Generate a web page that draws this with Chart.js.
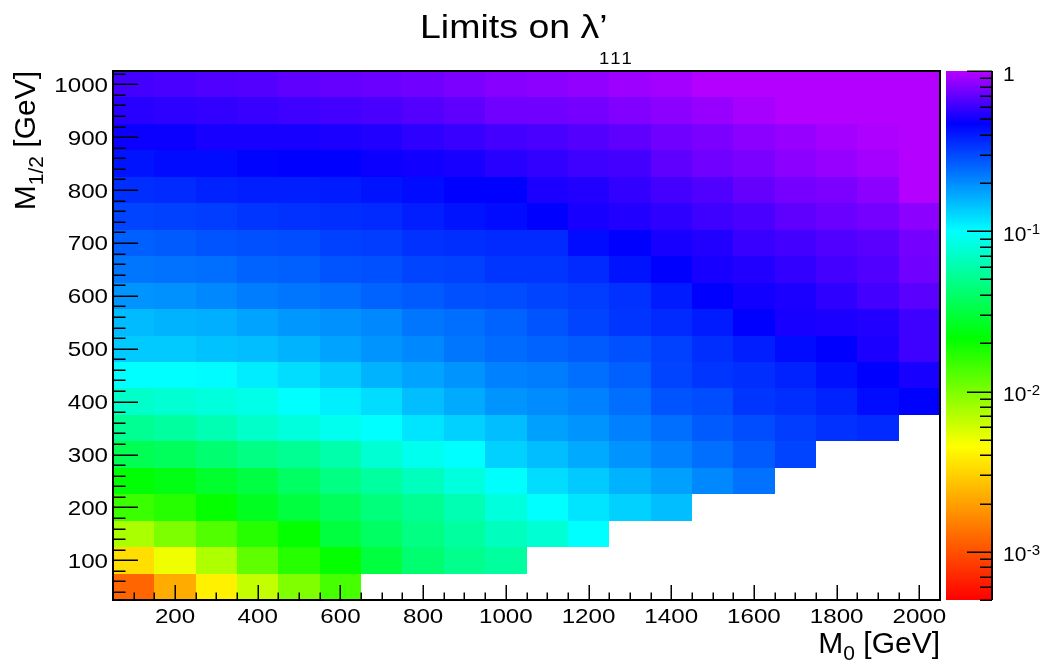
<!DOCTYPE html>
<html>
<head>
<meta charset="utf-8">
<title>Limits on λ'111</title>
<script src="https://cdn.jsdelivr.net/npm/chart.js@4.4.1/dist/chart.umd.min.js"></script>
<style>
  html, body { margin: 0; padding: 0; background: #fff; }
  #wrap { width: 1043px; height: 666px; }
</style>
</head>
<body>
<div id="wrap"><canvas id="limits" width="1043" height="666"></canvas></div>
<script>
// bin centres in GeV
const m0Bins  = [100, 200, 300, 400, 500, 600, 700, 800, 900, 1000, 1100, 1200, 1300, 1400, 1500, 1600, 1700, 1800, 1900, 2000];
const m12Bins = [50, 100, 150, 200, 250, 300, 350, 400, 450, 500, 550, 600, 650, 700, 750, 800, 850, 900, 950, 1000];

// upper limit on lambda'_111, one row per M_1/2 bin, one entry per M_0 bin (null = no limit)
const lim50   = [0.0012, 0.0022, 0.0040, 0.0065, 0.0098, 0.014, null, null, null, null, null, null, null, null, null, null, null, null, null, null];
const lim100  = [0.0034, 0.0050, 0.0074, 0.012, 0.017, 0.021, 0.031, 0.042, 0.050, 0.056, null, null, null, null, null, null, null, null, null, null];
const lim150  = [0.0076, 0.010, 0.013, 0.017, 0.021, 0.031, 0.039, 0.047, 0.056, 0.068, 0.076, 0.100, null, null, null, null, null, null, null, null];
const lim200  = [0.015, 0.017, 0.021, 0.026, 0.031, 0.037, 0.045, 0.052, 0.063, 0.081, 0.100, 0.117, 0.132, 0.148, null, null, null, null, null, null];
const lim250  = [0.022, 0.024, 0.028, 0.032, 0.039, 0.047, 0.056, 0.068, 0.081, 0.098, 0.123, 0.138, 0.158, 0.178, 0.204, 0.234, null, null, null, null];
const lim300  = [0.035, 0.037, 0.042, 0.047, 0.052, 0.060, 0.076, 0.091, 0.100, 0.132, 0.148, 0.166, 0.191, 0.214, 0.240, 0.269, 0.309, null, null, null];
const lim350  = [0.052, 0.056, 0.063, 0.072, 0.081, 0.091, 0.100, 0.117, 0.132, 0.148, 0.178, 0.191, 0.214, 0.240, 0.269, 0.295, 0.324, 0.347, 0.363, null];
const lim400  = [0.072, 0.076, 0.081, 0.087, 0.100, 0.110, 0.123, 0.148, 0.166, 0.191, 0.200, 0.214, 0.240, 0.282, 0.295, 0.339, 0.355, 0.380, 0.437, 0.468];
const lim450  = [0.100, 0.100, 0.102, 0.112, 0.123, 0.138, 0.158, 0.174, 0.191, 0.214, 0.219, 0.240, 0.263, 0.309, 0.339, 0.355, 0.380, 0.427, 0.468, 0.513];
const lim500  = [0.138, 0.138, 0.145, 0.148, 0.158, 0.174, 0.191, 0.204, 0.229, 0.245, 0.257, 0.269, 0.288, 0.316, 0.355, 0.389, 0.437, 0.468, 0.525, 0.603];
const lim550  = [0.151, 0.158, 0.162, 0.174, 0.186, 0.195, 0.204, 0.229, 0.240, 0.257, 0.282, 0.309, 0.339, 0.363, 0.398, 0.468, 0.513, 0.525, 0.537, 0.603];
const lim600  = [0.191, 0.195, 0.204, 0.219, 0.229, 0.240, 0.257, 0.269, 0.288, 0.295, 0.309, 0.324, 0.347, 0.398, 0.468, 0.501, 0.525, 0.562, 0.617, 0.676];
const lim650  = [0.229, 0.234, 0.240, 0.257, 0.263, 0.282, 0.288, 0.309, 0.316, 0.339, 0.339, 0.363, 0.417, 0.468, 0.513, 0.537, 0.575, 0.617, 0.646, 0.741];
const lim700  = [0.263, 0.269, 0.282, 0.288, 0.295, 0.316, 0.324, 0.347, 0.355, 0.363, 0.363, 0.437, 0.468, 0.513, 0.537, 0.589, 0.617, 0.646, 0.676, 0.759];
const lim750  = [0.309, 0.316, 0.324, 0.339, 0.347, 0.355, 0.363, 0.389, 0.417, 0.437, 0.468, 0.513, 0.537, 0.562, 0.603, 0.631, 0.692, 0.724, 0.759, 0.832];
const lim800  = [0.355, 0.363, 0.380, 0.389, 0.389, 0.398, 0.417, 0.437, 0.468, 0.468, 0.525, 0.537, 0.575, 0.617, 0.646, 0.708, 0.759, 0.776, 0.832, 0.977];
const lim850  = [0.417, 0.437, 0.437, 0.457, 0.468, 0.468, 0.490, 0.501, 0.513, 0.550, 0.575, 0.603, 0.617, 0.692, 0.741, 0.776, 0.832, 0.871, 0.912, 0.977];
const lim900  = [0.490, 0.490, 0.513, 0.513, 0.513, 0.525, 0.537, 0.562, 0.589, 0.617, 0.631, 0.661, 0.692, 0.741, 0.776, 0.832, 0.871, 0.912, 0.955, 0.977];
const lim950  = [0.550, 0.562, 0.575, 0.589, 0.603, 0.617, 0.631, 0.661, 0.692, 0.741, 0.741, 0.759, 0.794, 0.832, 0.871, 0.933, 0.977, 0.977, 0.977, 0.977];
const lim1000 = [0.617, 0.631, 0.646, 0.661, 0.692, 0.708, 0.724, 0.741, 0.776, 0.813, 0.832, 0.851, 0.891, 0.912, 0.977, 0.977, 0.977, 0.977, 0.977, 0.977];

const limitRows = [lim50, lim100, lim150, lim200, lim250, lim300, lim350, lim400, lim450, lim500,
                   lim550, lim600, lim650, lim700, lim750, lim800, lim850, lim900, lim950, lim1000];

// axis ticks
const xTickValues = [200, 400, 600, 800, 1000, 1200, 1400, 1600, 1800, 2000];
const yTickValues = [100, 200, 300, 400, 500, 600, 700, 800, 900, 1000];
const zTickValues = [1e-3, 1e-2, 1e-1, 1];
const zTickLabels = [['10', '-3'], ['10', '-2'], ['10', '-1'], ['1', '']];
const zMin = 5e-4, zMax = 1;

const FONT = '"Liberation Sans", Arial, Helvetica, sans-serif';

// red -> yellow -> green -> cyan -> blue -> violet
const paletteStops = [
  [0.00,  [255, 0, 0]],
  [0.29,  [255, 255, 0]],
  [0.494, [0, 255, 0]],
  [0.697, [0, 255, 255]],
  [0.90,  [0, 0, 255]],
  [1.00,  [185, 0, 255]]
];

function paletteColor(t) {
  t = Math.max(0, Math.min(1, t));
  for (let i = 1; i < paletteStops.length; i++) {
    const [t1, c1] = paletteStops[i];
    const [t0, c0] = paletteStops[i - 1];
    if (t <= t1) {
      const f = (t - t0) / (t1 - t0);
      const c = c0.map((v, k) => Math.round(v + (c1[k] - v) * f));
      return 'rgb(' + c.join(',') + ')';
    }
  }
  return 'rgb(185,0,255)';
}

function zColor(zs, v) {
  const py = zs.getPixelForValue(v);
  return paletteColor((zs.bottom - py) / (zs.bottom - zs.top));
}

function txt(ctx, s, x, y, size, align, sx) {
  ctx.save();
  ctx.font = size + 'px ' + FONT;
  ctx.textAlign = align || 'left';
  ctx.textBaseline = 'alphabetic';
  ctx.fillStyle = '#000';
  ctx.translate(x, y);
  ctx.scale(sx || 1, 1);
  ctx.fillText(s, 0, 0);
  ctx.restore();
}

// "M" + subscript + rest, ending at local x = 0
function subTitle(ctx, main, sub, rest) {
  ctx.fillStyle = '#000';
  ctx.textBaseline = 'alphabetic';
  ctx.textAlign = 'left';
  ctx.font = '30px ' + FONT;
  const wMain = ctx.measureText(main).width;
  const wRest = ctx.measureText(rest).width;
  ctx.font = '21px ' + FONT;
  const wSub = ctx.measureText(sub).width;
  let x = -(wMain + wSub + wRest);
  ctx.font = '30px ' + FONT;
  ctx.fillText(main, x, 0);
  x += wMain;
  ctx.font = '21px ' + FONT;
  ctx.fillText(sub, x, 7.5);
  x += wSub;
  ctx.font = '30px ' + FONT;
  ctx.fillText(rest, x, 0);
}

const heatmap = {
  id: 'heatmap',
  beforeDatasetsDraw(chart) {
    const ctx = chart.ctx, xs = chart.scales.x, ys = chart.scales.y, zs = chart.scales.z;
    const hx = (m0Bins[1] - m0Bins[0]) / 2, hy = (m12Bins[1] - m12Bins[0]) / 2;
    ctx.save();
    limitRows.forEach((row, j) => {
      const yc = m12Bins[j];
      const yt = Math.round(ys.getPixelForValue(yc + hy));
      const yb = Math.round(ys.getPixelForValue(yc - hy));
      row.forEach((v, i) => {
        if (v == null) return;
        const xc = m0Bins[i];
        const xl = Math.round(xs.getPixelForValue(xc - hx));
        const xr = Math.round(xs.getPixelForValue(xc + hx));
        ctx.fillStyle = zColor(zs, v);
        ctx.fillRect(xl, yt, xr - xl, yb - yt);
      });
    });
    ctx.restore();
  },
  afterDraw(chart) {
    const ctx = chart.ctx, xs = chart.scales.x, ys = chart.scales.y, zs = chart.scales.z;
    const a = chart.chartArea;
    ctx.save();
    ctx.strokeStyle = '#000';

    // ticks inside the frame
    ctx.lineWidth = 1.5;
    ctx.beginPath();
    for (let v = 20; v <= 1020; v += 20) {
      const py = Math.round(ys.getPixelForValue(v)) + 0.25;
      if (py <= a.top + 1 || py >= a.bottom - 1) continue;
      const len = v % 100 === 0 ? 25 : 12.5;
      ctx.moveTo(a.left, py); ctx.lineTo(a.left + len, py);
    }
    for (let v = 100; v <= 2000; v += 50) {
      const px = Math.round(xs.getPixelForValue(v)) + 0.25;
      const len = v % 200 === 0 ? 15 : 7.5;
      ctx.moveTo(px, a.bottom); ctx.lineTo(px, a.bottom - len);
    }
    ctx.stroke();

    // frame
    ctx.lineWidth = 2;
    ctx.strokeRect(a.left, a.top, a.right - a.left, a.bottom - a.top);

    // tick labels
    xs.ticks.forEach(t => txt(ctx, String(t.value), xs.getPixelForValue(t.value), 623, 21, 'center', 1.15));
    ys.ticks.forEach(t => txt(ctx, String(t.value), 108, ys.getPixelForValue(t.value) + 7.5, 21, 'right', 1.15));

    // colour bar
    const bl = zs.left + 6, br = zs.left + 52;
    for (let py = Math.floor(zs.top); py < zs.bottom; py++) {
      ctx.fillStyle = zColor(zs, zs.getValueForPixel(py + 0.5));
      ctx.fillRect(bl, py, br - bl, 1);
    }
    ctx.lineWidth = 1.5;
    ctx.beginPath();
    for (let e = -4; e <= 0; e++) {
      for (let m = 1; m <= 9; m++) {
        const v = m * Math.pow(10, e);
        if (v < zMin * 0.999 || v > zMax * 1.001) continue;
        const py = Math.round(zs.getPixelForValue(v)) + 0.25;
        const len = m === 1 ? 25 : 12;
        ctx.moveTo(br, py); ctx.lineTo(br - len, py);
      }
    }
    ctx.stroke();
    ctx.lineWidth = 2;
    ctx.beginPath();
    ctx.moveTo(br, zs.top); ctx.lineTo(br, zs.bottom);
    ctx.stroke();

    zs.ticks.forEach((t, i) => {
      const py = zs.getPixelForValue(t.value);
      const [base, exp] = zTickLabels[i];
      txt(ctx, base, br + 11, py + 9.5, 21, 'left', 1);
      if (exp) {
        ctx.font = '21px ' + FONT;
        const w = ctx.measureText(base).width;
        txt(ctx, exp, br + 11 + w + 0.5, py + 3, 15, 'left', 1);
      }
    });

    // title
    txt(ctx, 'Limits on λ’', 420, 37.5, 33.5, 'left', 1.12);
    ['1', '1', '1'].forEach((c, i) => txt(ctx, c, 599 + i * 11.3, 64, 16.5, 'left', 1.12));

    // axis titles
    ctx.save();
    ctx.translate(a.right, 652.5);
    subTitle(ctx, 'M', '0', ' [GeV]');
    ctx.restore();

    ctx.save();
    ctx.translate(35, a.top);
    ctx.rotate(-Math.PI / 2);
    subTitle(ctx, 'M', '1/2', ' [GeV]');
    ctx.restore();

    ctx.restore();
  }
};

const cells = [];
limitRows.forEach((row, j) => row.forEach((v, i) => {
  if (v != null) cells.push({ x: m0Bins[i], y: m12Bins[j], v: v });
}));

new Chart(document.getElementById('limits'), {
  type: 'scatter',
  data: { datasets: [{ data: cells, pointRadius: 0, pointHoverRadius: 0 }] },
  options: {
    responsive: false,
    animation: false,
    events: [],
    layout: { padding: { top: 71, left: 0, right: 0, bottom: 0 } },
    plugins: { legend: { display: false }, tooltip: { enabled: false }, title: { display: false } },
    scales: {
      x: {
        type: 'linear', position: 'bottom', min: 50, max: 2050,
        grid: { display: false }, border: { display: false }, ticks: { display: false },
        afterBuildTicks: s => { s.ticks = xTickValues.map(v => ({ value: v })); },
        afterFit: s => { s.height = 66; }
      },
      y: {
        type: 'linear', position: 'left', min: 25, max: 1025,
        grid: { display: false }, border: { display: false }, ticks: { display: false },
        afterBuildTicks: s => { s.ticks = yTickValues.map(v => ({ value: v })); },
        afterFit: s => { s.width = 113; }
      },
      z: {
        type: 'logarithmic', position: 'right', min: zMin, max: zMax,
        grid: { display: false }, border: { display: false }, ticks: { display: false },
        afterBuildTicks: s => { s.ticks = zTickValues.map(v => ({ value: v })); },
        afterFit: s => { s.width = 103; }
      }
    }
  },
  plugins: [heatmap]
});
</script>
</body>
</html>
